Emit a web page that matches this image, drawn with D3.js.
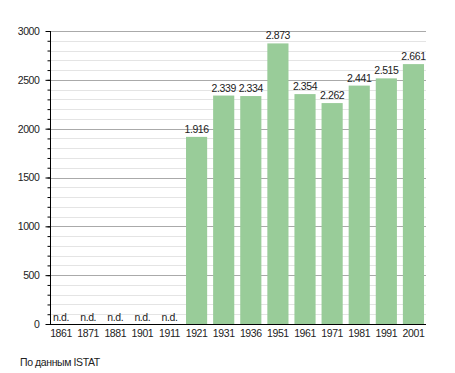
<!DOCTYPE html>
<html>
<head>
<meta charset="utf-8">
<script src="https://cdn.jsdelivr.net/npm/d3@7"></script>
<style>
  body { margin: 0; background: #fff; }
  text { font-family: "Liberation Sans", Arial, sans-serif; fill: #222; }
</style>
</head>
<body>
<svg id="chart" width="455" height="373"></svg>
<script>
// census years and population (null = no data)
const years = ['1861','1871','1881','1901','1911','1921','1931','1936','1951','1961','1971','1981','1991','2001'];
const population = [null, null, null, null, null, 1916, 2339, 2334, 2873, 2354, 2262, 2441, 2515, 2661];
const yTicks = [0, 500, 1000, 1500, 2000, 2500, 3000];
const sourceText = 'По данным ISTAT';

const svg = d3.select('#chart');
const plotLeft = 50, plotRight = 426, plotTop = 31, plotBottom = 324;
const fontSize = '10.5px', spacing = '-0.4px';

const x = d3.scaleBand()
  .domain(years)
  .range([47.5, plotRight + 1])
  .paddingInner(0.22)
  .paddingOuter(0.11);

const y = d3.scaleLinear()
  .domain([0, 3000])
  .range([plotBottom, plotTop]);

// minor grid every 100
svg.append('g')
  .selectAll('line')
  .data(d3.range(100, 3001, 100).filter(v => v % 500 !== 0))
  .join('line')
  .attr('x1', plotLeft).attr('x2', plotRight)
  .attr('y1', d => Math.round(y(d)) + 0.5).attr('y2', d => Math.round(y(d)) + 0.5)
  .attr('stroke', '#e4e4e4');

// major grid every 500
svg.append('g')
  .selectAll('line')
  .data(yTicks.filter(v => v > 0))
  .join('line')
  .attr('x1', plotLeft).attr('x2', plotRight)
  .attr('y1', d => Math.round(y(d)) + 0.5).attr('y2', d => Math.round(y(d)) + 0.5)
  .attr('stroke', '#aaaaaa');

const data = years.map((yr, i) => ({ year: yr, value: population[i] }));

// bars
svg.append('g')
  .selectAll('rect')
  .data(data.filter(d => d.value !== null))
  .join('rect')
  .attr('x', d => x(d.year))
  .attr('width', x.bandwidth())
  .attr('y', d => y(d.value))
  .attr('height', d => y(0) - y(d.value))
  .attr('fill', '#99cc99');

// value labels
svg.append('g')
  .selectAll('text')
  .data(data)
  .join('text')
  .attr('x', d => x(d.year) + x.bandwidth() / 2)
  .attr('y', d => d.value === null ? y(0) - 3 : y(d.value) - 4)
  .attr('text-anchor', 'middle')
  .style('font-size', fontSize)
  .style('letter-spacing', spacing)
  .text(d => d.value === null ? 'n.d.' : d3.format(',')(d.value).replace(',', '.'));

// y axis with minor ticks
const yAxis = d3.axisLeft(y).tickValues(yTicks).tickSize(5).tickPadding(6).tickFormat(d3.format('d'));
const yMinor = d3.axisLeft(y).tickValues(d3.range(0, 3001, 100)).tickSize(3).tickFormat('');

svg.append('g')
  .attr('transform', `translate(${plotLeft + 0.5},0)`)
  .call(yMinor)
  .call(g => g.select('.domain').remove())
  .call(g => g.selectAll('line').attr('stroke', '#000'));

svg.append('g')
  .attr('transform', `translate(${plotLeft + 0.5},0)`)
  .call(yAxis)
  .call(g => g.select('.domain').attr('d', `M0,${plotTop}V${plotBottom}`).attr('stroke', '#000'))
  .call(g => g.selectAll('text').style('font-size', fontSize).style('letter-spacing', spacing).attr('font-family', null));

// x axis
svg.append('g')
  .attr('transform', `translate(0,${plotBottom + 0.5})`)
  .call(d3.axisBottom(x).tickSize(0).tickPadding(5))
  .call(g => g.select('.domain').attr('d', `M${plotLeft},0H${plotRight}`).attr('stroke', '#000'))
  .call(g => g.selectAll('text').style('font-size', fontSize).style('letter-spacing', spacing).attr('font-family', null));

// source note
svg.append('text')
  .attr('x', 20)
  .attr('y', 366)
  .style('font-size', fontSize)
  .style('letter-spacing', spacing)
  .text(sourceText);
</script>
</body>
</html>
